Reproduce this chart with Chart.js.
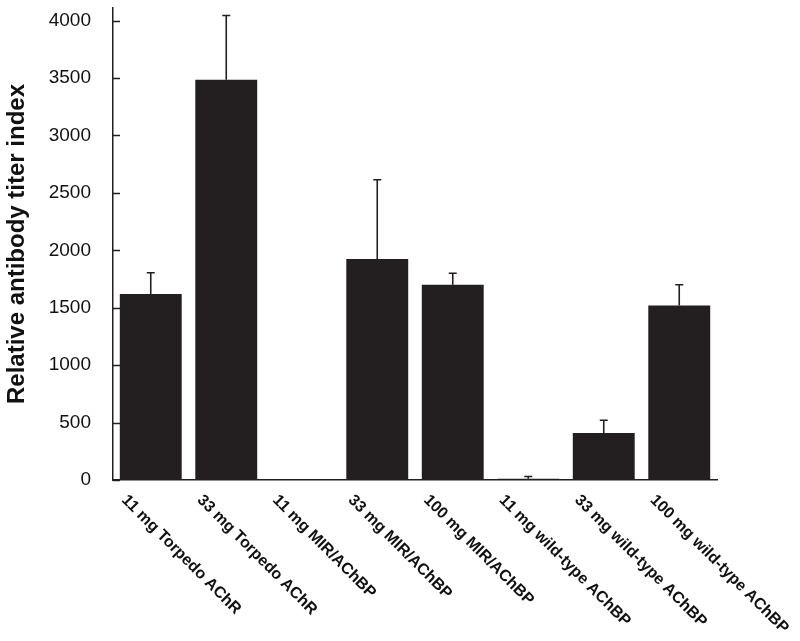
<!DOCTYPE html>
<html>
<head>
<meta charset="utf-8">
<script src="https://cdn.jsdelivr.net/npm/chart.js@4"></script>
<style>
  html, body { margin: 0; padding: 0; background: #fff; }
  #wrap { width: 800px; height: 641px; }
</style>
</head>
<body>
<div id="wrap"><canvas id="titerChart" width="800" height="641"></canvas></div>
<script>
// datos
const grupos = [
    '11 mg Torpedo AChR',
    '33 mg Torpedo AChR',
    '11 mg MIR/AChBP',
    '33 mg MIR/AChBP',
    '100 mg MIR/AChBP',
    '11 mg wild-type AChBP',
    '33 mg wild-type AChBP',
    '100 mg wild-type AChBP'
];
const titulos = [1620, 3485, 0, 1925, 1700, 10, 410, 1520];
const errores = [185, 560, 0, 690, 100, 20, 110, 180];
const yTicks = [0, 500, 1000, 1500, 2000, 2500, 3000, 3500, 4000];

const colorBarra = '#231f20';

// barras de error (solo hacia arriba, con tope)
const errorBars = {
    id: 'errorBars',
    afterDatasetsDraw(chart) {
        const ctx = chart.ctx;
        const y = chart.scales.y;
        const meta = chart.getDatasetMeta(0);
        ctx.save();
        ctx.strokeStyle = colorBarra;
        ctx.lineWidth = 1.6;
        meta.data.forEach((bar, i) => {
            if (!errores[i]) return;
            const yTop = y.getPixelForValue(titulos[i] + errores[i]);
            ctx.beginPath();
            ctx.moveTo(bar.x, bar.y);
            ctx.lineTo(bar.x, yTop);
            ctx.moveTo(bar.x - 4, yTop);
            ctx.lineTo(bar.x + 4, yTop);
            ctx.stroke();
        });
        ctx.restore();
    }
};

// marcas del eje y hacia adentro
const marcasY = {
    id: 'marcasY',
    afterDraw(chart) {
        const ctx = chart.ctx;
        const y = chart.scales.y;
        const left = chart.chartArea.left;
        ctx.save();
        ctx.strokeStyle = colorBarra;
        ctx.lineWidth = 1.5;
        yTicks.forEach(v => {
            const py = Math.round(y.getPixelForValue(v)) + 0.5;
            ctx.beginPath();
            ctx.moveTo(left, py);
            ctx.lineTo(left + 7, py);
            ctx.stroke();
        });
        ctx.restore();
    }
};

// etiquetas del eje x giradas 45 grados hacia abajo
const etiquetasX = {
    id: 'etiquetasX',
    afterDraw(chart) {
        const ctx = chart.ctx;
        const x = chart.scales.x;
        const bottom = chart.chartArea.bottom;
        ctx.save();
        ctx.fillStyle = '#111';
        ctx.font = 'bold 16px "Liberation Sans", Arial, sans-serif';
        ctx.textAlign = 'left';
        ctx.textBaseline = 'top';
        grupos.forEach((g, i) => {
            const px = x.getPixelForValue(i) - 21;
            ctx.save();
            ctx.translate(px, bottom + 12);
            ctx.rotate(Math.PI / 4);
            ctx.fillText(g, 0, 0);
            ctx.restore();
        });
        ctx.restore();
    }
};

new Chart(document.getElementById('titerChart').getContext('2d'), {
    type: 'bar',
    data: {
        labels: grupos,
        datasets: [{
            label: 'Relative antibody titer index',
            data: titulos,
            backgroundColor: colorBarra,
            borderWidth: 0,
            barPercentage: 0.82,
            categoryPercentage: 1.0
        }]
    },
    options: {
        responsive: false,
        animation: false,
        layout: {
            padding: { top: 8, right: 83, bottom: 161, left: 0 }
        },
        plugins: {
            legend: { display: false },
            tooltip: { enabled: false }
        },
        scales: {
            x: {
                grid: { display: false, drawTicks: false },
                border: { display: true, color: colorBarra, width: 1.5 },
                ticks: { display: false }
            },
            y: {
                min: 0,
                max: 4110,
                afterBuildTicks: scale => {
                    scale.ticks = yTicks.map(v => ({ value: v }));
                },
                afterFit: scale => {
                    scale.width = 113;
                    scale.paddingTop = 0;
                    scale.paddingBottom = 0;
                },
                grid: { drawOnChartArea: false, drawTicks: false },
                border: { display: true, color: colorBarra, width: 1.5 },
                ticks: {
                    color: '#111',
                    padding: 22,
                    callback: v => String(v),
                    font: { family: '"Liberation Sans", Arial, sans-serif', size: 19 }
                },
                title: {
                    display: true,
                    text: 'Relative antibody titer index',
                    color: '#111',
                    padding: { top: 3, bottom: 0 },
                    font: { family: '"Liberation Sans", Arial, sans-serif', size: 24, weight: 'bold' }
                }
            }
        }
    },
    plugins: [errorBars, marcasY, etiquetasX]
});
</script>
</body>
</html>
